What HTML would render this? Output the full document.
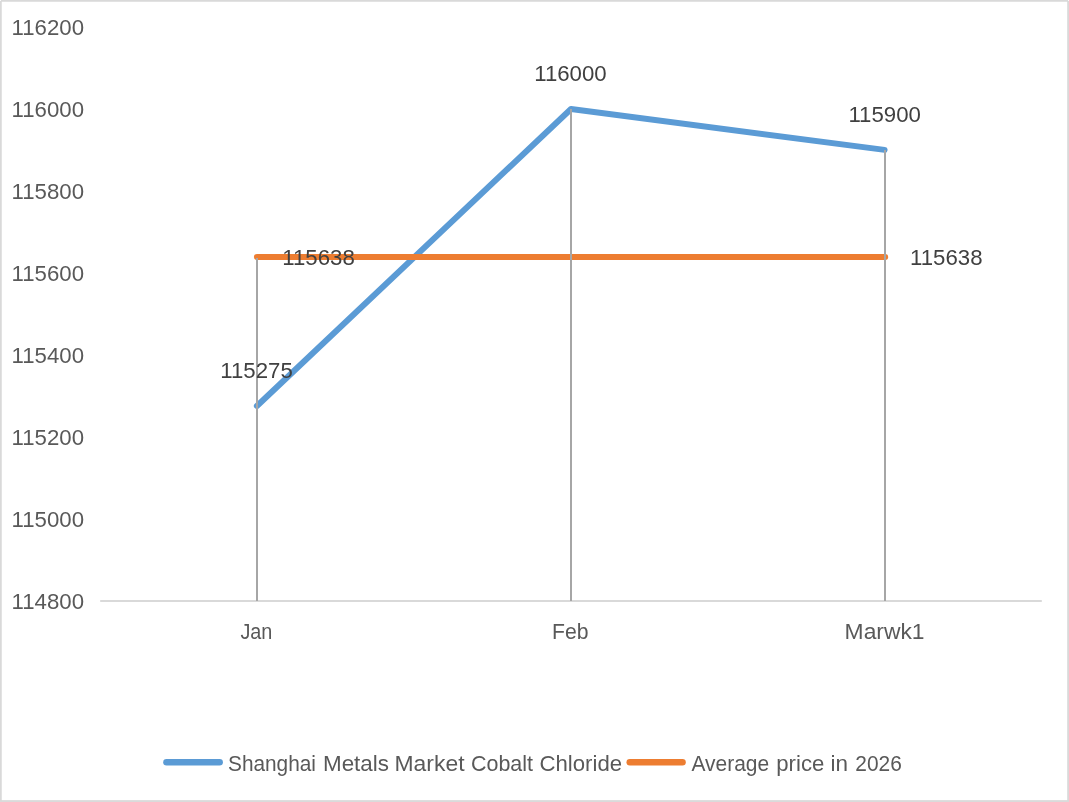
<!DOCTYPE html>
<html lang="en">
<head>
<meta charset="utf-8">
<title>Shanghai Metals Market Cobalt Chloride</title>
<style>
html,body{margin:0;padding:0;background:#fff;}
body{width:1069px;height:802px;overflow:hidden;}
svg{display:block;font-family:"Liberation Sans",sans-serif;}
.ax{fill:#595959;font-size:21.3px;}
.dl{fill:#404040;font-size:21.3px;}
</style>
</head>
<body>
<svg width="1069" height="802" viewBox="0 0 1069 802">
<rect x="0" y="0" width="1069" height="802" fill="#ffffff"/>
<!-- outer border -->
<rect x="0.85" y="0.85" width="1067.25" height="800.2" fill="none" stroke="#d9d9d9" stroke-width="1.8"/>
<path d="M0 0h1v1h-1zM1068 0h1v1h-1z" fill="#ffffff" fill-opacity="0.85"/>
<!-- x axis -->
<line x1="100.2" y1="601" x2="1041.8" y2="601" stroke="#d9d9d9" stroke-width="2"/>
<!-- series -->
<polyline points="256.9,406 571,109 884.6,149.9" fill="none" stroke="#5b9bd5" stroke-width="6" stroke-linecap="round" stroke-linejoin="round"/>
<line x1="256.9" y1="256.9" x2="885.2" y2="256.9" stroke="#ed7d31" stroke-width="6" stroke-linecap="round"/>
<!-- drop lines -->
<line x1="257" y1="258" x2="257" y2="601" stroke="#a6a6a6" stroke-width="2"/>
<line x1="571" y1="109" x2="571" y2="601" stroke="#a6a6a6" stroke-width="2"/>
<line x1="885" y1="150" x2="885" y2="601" stroke="#a6a6a6" stroke-width="2"/>
<!-- y axis labels -->
<g class="ax">
<text x="11.5" y="35.1" textLength="72.5" lengthAdjust="spacingAndGlyphs">116200</text>
<text x="11.5" y="117.1" textLength="72.5" lengthAdjust="spacingAndGlyphs">116000</text>
<text x="11.5" y="199.1" textLength="72.5" lengthAdjust="spacingAndGlyphs">115800</text>
<text x="11.5" y="281.1" textLength="72.5" lengthAdjust="spacingAndGlyphs">115600</text>
<text x="11.5" y="363.1" textLength="72.5" lengthAdjust="spacingAndGlyphs">115400</text>
<text x="11.5" y="445.1" textLength="72.5" lengthAdjust="spacingAndGlyphs">115200</text>
<text x="11.5" y="527.1" textLength="72.5" lengthAdjust="spacingAndGlyphs">115000</text>
<text x="11.5" y="609.1" textLength="72.5" lengthAdjust="spacingAndGlyphs">114800</text>
</g>
<!-- x axis labels -->
<g class="ax">
<text x="240.4" y="638.9" textLength="32" lengthAdjust="spacingAndGlyphs">Jan</text>
<text x="552" y="638.9" textLength="36.5" lengthAdjust="spacingAndGlyphs">Feb</text>
<text x="844.6" y="638.9" textLength="80" lengthAdjust="spacingAndGlyphs">Marwk1</text>
</g>
<!-- data labels -->
<g class="dl">
<text x="220.3" y="378.2" textLength="72.5" lengthAdjust="spacingAndGlyphs">115275</text>
<text x="534.2" y="81.1" textLength="72.5" lengthAdjust="spacingAndGlyphs">116000</text>
<text x="848.4" y="122" textLength="72.5" lengthAdjust="spacingAndGlyphs">115900</text>
<text x="282.3" y="265.2" textLength="72.5" lengthAdjust="spacingAndGlyphs">115638</text>
<text x="910" y="265.2" textLength="72.5" lengthAdjust="spacingAndGlyphs">115638</text>
</g>
<!-- legend -->
<line x1="166.5" y1="762.25" x2="219.6" y2="762.25" stroke="#5b9bd5" stroke-width="6.6" stroke-linecap="round"/>
<line x1="629.8" y1="762.25" x2="682.5" y2="762.25" stroke="#ed7d31" stroke-width="6.6" stroke-linecap="round"/>
<g class="ax">
<text x="228" y="770.8" textLength="88" lengthAdjust="spacingAndGlyphs">Shanghai</text>
<text x="323" y="770.8" textLength="66" lengthAdjust="spacingAndGlyphs">Metals</text>
<text x="394.5" y="770.8" textLength="70" lengthAdjust="spacingAndGlyphs">Market</text>
<text x="471" y="770.8" textLength="62" lengthAdjust="spacingAndGlyphs">Cobalt</text>
<text x="539.5" y="770.8" textLength="82.6" lengthAdjust="spacingAndGlyphs">Chloride</text>
<text x="691.5" y="770.5" textLength="77.7" lengthAdjust="spacingAndGlyphs">Average</text>
<text x="776.3" y="770.5" textLength="48" lengthAdjust="spacingAndGlyphs">price</text>
<text x="830.5" y="770.5" textLength="17.5" lengthAdjust="spacingAndGlyphs">in</text>
<text x="855.3" y="770.5" textLength="46.5" lengthAdjust="spacingAndGlyphs">2026</text>
</g>
</svg>
</body>
</html>
